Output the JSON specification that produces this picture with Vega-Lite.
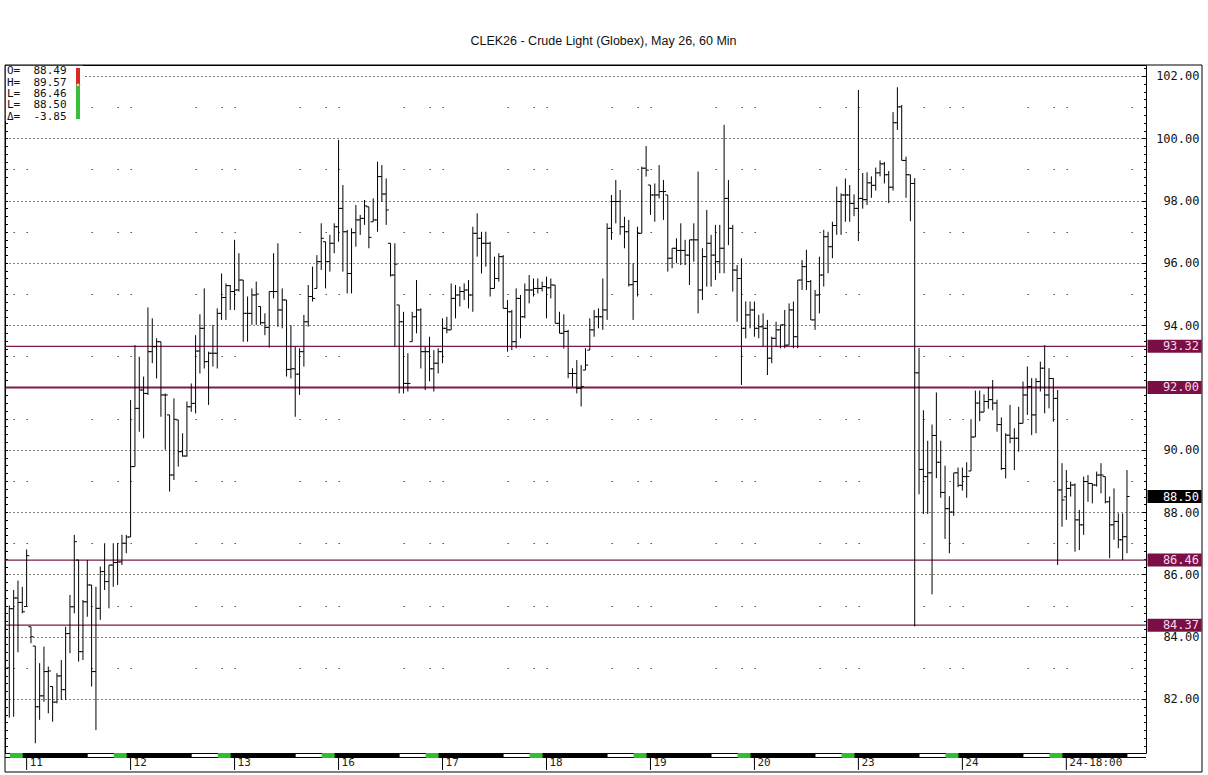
{
  "$schema": "https://vega.github.io/schema/vega-lite/v6.json",
  "width": 1141,
  "height": 688,
  "autosize": "none",
  "padding": {"left": 5, "top": 65, "right": 62, "bottom": 22},
  "background": "#ffffff",
  "title": {"text": "CLEK26 - Crude Light (Globex), May 26, 60 Min", "font": "Liberation Sans", "fontSize": 12.5, "fontWeight": "normal", "color": "#111111", "anchor": "middle", "dx": 28, "offset": 7, "baseline": "alphabetic"},
  "config": {"view": {"stroke": "#000000", "strokeWidth": 1}},
  "datasets": {
    "bars": [
      {"i":0,"o":83.0,"h":85.0,"l":81.4,"c":84.9},
      {"i":1,"o":84.9,"h":85.5,"l":81.43,"c":85.24},
      {"i":2,"o":85.24,"h":85.8,"l":83.5,"c":85.1},
      {"i":3,"o":85.1,"h":85.6,"l":84.75,"c":84.8},
      {"i":4,"o":84.97,"h":86.8,"l":84.97,"c":86.6},
      {"i":5,"o":84.32,"h":84.32,"l":83.79,"c":84.0},
      {"i":6,"o":83.7,"h":83.7,"l":80.58,"c":81.75},
      {"i":7,"o":81.75,"h":83.15,"l":81.33,"c":82.1},
      {"i":8,"o":82.1,"h":83.68,"l":81.91,"c":82.88},
      {"i":9,"o":82.88,"h":83.04,"l":81.54,"c":82.9},
      {"i":10,"o":82.4,"h":82.4,"l":81.27,"c":81.9},
      {"i":11,"o":81.9,"h":82.83,"l":81.86,"c":82.74},
      {"i":12,"o":82.74,"h":83.25,"l":81.97,"c":82.3},
      {"i":13,"o":82.3,"h":84.32,"l":81.97,"c":84.1},
      {"i":14,"o":84.1,"h":85.34,"l":83.47,"c":84.96},
      {"i":15,"o":84.96,"h":87.27,"l":84.75,"c":87.05},
      {"i":16,"o":86.46,"h":86.46,"l":83.2,"c":83.52},
      {"i":17,"o":83.52,"h":85.18,"l":83.25,"c":85.12},
      {"i":18,"o":85.12,"h":86.46,"l":84.64,"c":85.66},
      {"i":19,"o":85.66,"h":85.66,"l":82.4,"c":82.88},
      {"i":20,"o":82.88,"h":85.6,"l":81.0,"c":84.91},
      {"i":21,"o":84.91,"h":86.25,"l":84.54,"c":86.09},
      {"i":22,"o":86.09,"h":87.0,"l":85.5,"c":85.77},
      {"i":23,"o":85.77,"h":86.3,"l":84.91,"c":86.3},
      {"i":24,"o":86.3,"h":87.0,"l":85.6,"c":86.38},
      {"i":25,"o":86.38,"h":87.0,"l":85.66,"c":86.4},
      {"i":26,"o":86.4,"h":87.27,"l":86.3,"c":87.0},
      {"i":27,"o":87.0,"h":87.27,"l":86.68,"c":87.2},
      {"i":28,"o":87.2,"h":91.6,"l":87.2,"c":89.46},
      {"i":29,"o":89.46,"h":93.36,"l":89.46,"c":91.33},
      {"i":30,"o":91.33,"h":92.99,"l":90.58,"c":91.92},
      {"i":31,"o":91.92,"h":92.35,"l":90.37,"c":91.81},
      {"i":32,"o":91.81,"h":94.57,"l":91.76,"c":93.15},
      {"i":33,"o":93.15,"h":94.22,"l":92.78,"c":93.31},
      {"i":34,"o":93.31,"h":93.58,"l":92.29,"c":93.47},
      {"i":35,"o":93.47,"h":93.47,"l":91.06,"c":91.76},
      {"i":36,"o":91.76,"h":91.81,"l":90.0,"c":91.76},
      {"i":37,"o":91.12,"h":91.12,"l":88.66,"c":89.19},
      {"i":38,"o":89.19,"h":91.65,"l":89.03,"c":90.98},
      {"i":39,"o":90.96,"h":90.96,"l":89.46,"c":89.94},
      {"i":40,"o":89.94,"h":90.53,"l":89.78,"c":89.8},
      {"i":41,"o":89.8,"h":91.55,"l":89.78,"c":91.38},
      {"i":42,"o":91.38,"h":92.13,"l":91.22,"c":91.49},
      {"i":43,"o":91.49,"h":93.68,"l":91.17,"c":93.17},
      {"i":44,"o":93.17,"h":94.35,"l":92.45,"c":93.9},
      {"i":45,"o":93.9,"h":95.18,"l":92.61,"c":92.83},
      {"i":46,"o":92.83,"h":93.15,"l":91.44,"c":93.1},
      {"i":47,"o":93.1,"h":94.01,"l":92.67,"c":93.1},
      {"i":48,"o":93.1,"h":94.54,"l":92.61,"c":94.38},
      {"i":49,"o":94.38,"h":95.66,"l":94.17,"c":94.89},
      {"i":50,"o":94.89,"h":95.34,"l":94.17,"c":95.27},
      {"i":51,"o":95.27,"h":95.29,"l":94.49,"c":95.08},
      {"i":52,"o":95.08,"h":96.74,"l":94.49,"c":95.13},
      {"i":53,"o":95.13,"h":96.31,"l":95.08,"c":95.45},
      {"i":54,"o":95.45,"h":95.45,"l":93.47,"c":94.38},
      {"i":55,"o":94.38,"h":94.92,"l":93.47,"c":94.38},
      {"i":56,"o":94.38,"h":95.18,"l":94.01,"c":94.97},
      {"i":57,"o":94.97,"h":95.4,"l":94.01,"c":95.0},
      {"i":58,"o":94.6,"h":94.6,"l":94.01,"c":94.08},
      {"i":59,"o":94.08,"h":94.38,"l":93.68,"c":93.93},
      {"i":60,"o":93.93,"h":95.08,"l":93.28,"c":95.08},
      {"i":61,"o":95.08,"h":96.31,"l":94.86,"c":95.08},
      {"i":62,"o":95.08,"h":96.63,"l":93.95,"c":94.49},
      {"i":63,"o":94.49,"h":95.18,"l":93.9,"c":94.81},
      {"i":64,"o":94.81,"h":94.81,"l":92.35,"c":92.58},
      {"i":65,"o":92.58,"h":94.0,"l":92.29,"c":92.6},
      {"i":66,"o":92.6,"h":93.31,"l":91.06,"c":92.43},
      {"i":67,"o":92.43,"h":93.26,"l":91.76,"c":93.15},
      {"i":68,"o":93.15,"h":94.33,"l":92.67,"c":94.11},
      {"i":69,"o":94.11,"h":95.29,"l":93.95,"c":94.92},
      {"i":70,"o":94.92,"h":95.88,"l":94.76,"c":94.86},
      {"i":71,"o":95.18,"h":96.25,"l":95.18,"c":96.04},
      {"i":72,"o":96.04,"h":97.27,"l":95.77,"c":96.79},
      {"i":73,"o":96.68,"h":96.68,"l":95.18,"c":96.04},
      {"i":74,"o":96.04,"h":96.9,"l":95.72,"c":96.63},
      {"i":75,"o":96.63,"h":97.27,"l":96.31,"c":97.16},
      {"i":76,"o":97.16,"h":99.95,"l":96.68,"c":97.75},
      {"i":77,"o":97.75,"h":98.5,"l":95.72,"c":97.0},
      {"i":78,"o":97.0,"h":97.06,"l":95.02,"c":95.66},
      {"i":79,"o":95.66,"h":97.11,"l":95.02,"c":96.97},
      {"i":80,"o":96.97,"h":97.86,"l":96.52,"c":97.38},
      {"i":81,"o":97.38,"h":97.54,"l":96.9,"c":97.43},
      {"i":82,"o":97.43,"h":98.02,"l":97.22,"c":97.83},
      {"i":83,"o":97.8,"h":97.8,"l":96.47,"c":96.82},
      {"i":84,"o":97.32,"h":98.07,"l":97.32,"c":97.38},
      {"i":85,"o":97.38,"h":99.25,"l":97.0,"c":98.77},
      {"i":86,"o":98.77,"h":99.14,"l":97.96,"c":98.21},
      {"i":87,"o":98.21,"h":98.71,"l":97.22,"c":97.7},
      {"i":88,"o":96.63,"h":96.63,"l":95.56,"c":95.61},
      {"i":89,"o":95.61,"h":96.63,"l":93.31,"c":95.96},
      {"i":90,"o":94.65,"h":94.65,"l":91.81,"c":94.11},
      {"i":91,"o":94.11,"h":94.43,"l":91.81,"c":92.13},
      {"i":92,"o":92.13,"h":93.1,"l":91.87,"c":92.13},
      {"i":93,"o":93.47,"h":94.43,"l":93.47,"c":94.27},
      {"i":94,"o":94.27,"h":95.45,"l":93.74,"c":94.49},
      {"i":95,"o":94.49,"h":94.54,"l":92.61,"c":93.15},
      {"i":96,"o":93.15,"h":93.31,"l":91.92,"c":93.15},
      {"i":97,"o":93.15,"h":93.63,"l":92.2,"c":92.6},
      {"i":98,"o":92.6,"h":93.2,"l":91.87,"c":92.78},
      {"i":99,"o":92.78,"h":93.26,"l":92.45,"c":93.15},
      {"i":100,"o":93.15,"h":94.22,"l":92.78,"c":93.9},
      {"i":101,"o":93.9,"h":94.27,"l":93.74,"c":93.85},
      {"i":102,"o":93.85,"h":95.34,"l":93.85,"c":94.86},
      {"i":103,"o":94.86,"h":95.29,"l":94.22,"c":94.97},
      {"i":104,"o":94.97,"h":95.24,"l":94.6,"c":95.08},
      {"i":105,"o":95.08,"h":95.34,"l":94.81,"c":95.13},
      {"i":106,"o":95.13,"h":95.45,"l":94.54,"c":94.97},
      {"i":107,"o":94.97,"h":97.16,"l":94.43,"c":96.95},
      {"i":108,"o":96.95,"h":97.59,"l":96.2,"c":96.79},
      {"i":109,"o":96.79,"h":97.0,"l":95.66,"c":96.63},
      {"i":110,"o":96.63,"h":97.0,"l":95.88,"c":96.63},
      {"i":111,"o":96.63,"h":96.68,"l":94.92,"c":95.18},
      {"i":112,"o":95.18,"h":96.2,"l":95.18,"c":95.5},
      {"i":113,"o":95.5,"h":96.31,"l":95.4,"c":96.2},
      {"i":114,"o":96.2,"h":96.25,"l":94.54,"c":94.54},
      {"i":115,"o":94.54,"h":94.81,"l":93.15,"c":94.43},
      {"i":116,"o":94.43,"h":94.49,"l":93.2,"c":93.47},
      {"i":117,"o":93.47,"h":95.18,"l":93.26,"c":94.86},
      {"i":118,"o":94.86,"h":94.97,"l":93.58,"c":94.27},
      {"i":119,"o":94.27,"h":95.34,"l":94.22,"c":95.13},
      {"i":120,"o":95.13,"h":95.61,"l":94.7,"c":95.13},
      {"i":121,"o":95.13,"h":95.5,"l":94.92,"c":95.18},
      {"i":122,"o":95.18,"h":95.5,"l":95.02,"c":95.18},
      {"i":123,"o":95.18,"h":95.4,"l":95.08,"c":95.24},
      {"i":124,"o":95.24,"h":95.56,"l":94.22,"c":95.2},
      {"i":125,"o":95.2,"h":95.5,"l":94.86,"c":95.29},
      {"i":126,"o":95.29,"h":95.29,"l":94.06,"c":94.06},
      {"i":127,"o":94.06,"h":94.43,"l":93.74,"c":93.74},
      {"i":128,"o":93.74,"h":94.35,"l":93.25,"c":93.8},
      {"i":129,"o":93.8,"h":93.85,"l":92.3,"c":92.45},
      {"i":130,"o":92.45,"h":92.62,"l":92.03,"c":92.45},
      {"i":131,"o":92.45,"h":92.88,"l":91.81,"c":91.97},
      {"i":132,"o":91.97,"h":92.72,"l":91.39,"c":92.03},
      {"i":133,"o":92.56,"h":93.26,"l":92.56,"c":92.72},
      {"i":134,"o":93.2,"h":94.22,"l":93.2,"c":93.85},
      {"i":135,"o":93.85,"h":94.49,"l":93.63,"c":94.27},
      {"i":136,"o":94.27,"h":94.54,"l":93.9,"c":94.27},
      {"i":137,"o":94.27,"h":95.5,"l":93.85,"c":94.49},
      {"i":138,"o":94.49,"h":97.27,"l":94.17,"c":97.11},
      {"i":139,"o":97.11,"h":98.18,"l":96.74,"c":97.97},
      {"i":140,"o":97.97,"h":98.66,"l":97.27,"c":97.97},
      {"i":141,"o":97.97,"h":98.34,"l":96.9,"c":97.16},
      {"i":142,"o":97.16,"h":97.48,"l":96.47,"c":97.0},
      {"i":143,"o":97.0,"h":97.38,"l":95.24,"c":95.3},
      {"i":144,"o":95.3,"h":95.99,"l":94.17,"c":95.4},
      {"i":145,"o":95.4,"h":97.16,"l":94.92,"c":96.95},
      {"i":146,"o":96.95,"h":99.09,"l":96.95,"c":99.04},
      {"i":147,"o":99.04,"h":99.75,"l":98.77,"c":98.98},
      {"i":148,"o":98.5,"h":98.5,"l":97.54,"c":98.18},
      {"i":149,"o":98.18,"h":98.55,"l":97.32,"c":98.18},
      {"i":150,"o":98.18,"h":99.14,"l":98.07,"c":98.29},
      {"i":151,"o":98.29,"h":98.66,"l":97.38,"c":98.29},
      {"i":152,"o":98.18,"h":98.18,"l":95.72,"c":96.15},
      {"i":153,"o":96.15,"h":96.47,"l":95.83,"c":96.47},
      {"i":154,"o":96.47,"h":96.79,"l":95.99,"c":96.4},
      {"i":155,"o":96.4,"h":97.27,"l":95.93,"c":96.4},
      {"i":156,"o":96.4,"h":96.74,"l":95.93,"c":96.25},
      {"i":157,"o":96.25,"h":96.74,"l":95.29,"c":96.74},
      {"i":158,"o":96.74,"h":97.27,"l":96.04,"c":96.74},
      {"i":159,"o":96.74,"h":98.93,"l":94.38,"c":95.13},
      {"i":160,"o":95.13,"h":96.47,"l":94.81,"c":96.2},
      {"i":161,"o":96.2,"h":97.7,"l":95.24,"c":96.63},
      {"i":162,"o":96.63,"h":96.9,"l":95.24,"c":96.25},
      {"i":163,"o":96.25,"h":97.22,"l":95.45,"c":96.04},
      {"i":164,"o":96.04,"h":97.22,"l":95.67,"c":96.47},
      {"i":165,"o":96.47,"h":100.43,"l":95.67,"c":98.07},
      {"i":166,"o":98.07,"h":98.66,"l":96.57,"c":97.11},
      {"i":167,"o":97.11,"h":97.22,"l":95.08,"c":95.77},
      {"i":168,"o":95.77,"h":95.93,"l":94.11,"c":95.5},
      {"i":169,"o":95.5,"h":96.15,"l":92.08,"c":93.9},
      {"i":170,"o":93.9,"h":94.76,"l":93.58,"c":94.33},
      {"i":171,"o":94.33,"h":94.76,"l":93.9,"c":94.49},
      {"i":172,"o":94.49,"h":94.76,"l":93.63,"c":93.9},
      {"i":173,"o":93.9,"h":94.33,"l":93.58,"c":93.95},
      {"i":174,"o":93.95,"h":94.38,"l":93.31,"c":93.9},
      {"i":175,"o":93.9,"h":94.17,"l":92.4,"c":92.94},
      {"i":176,"o":92.94,"h":93.63,"l":92.78,"c":93.58},
      {"i":177,"o":93.58,"h":94.11,"l":93.31,"c":93.85},
      {"i":178,"o":93.85,"h":94.01,"l":93.26,"c":94.01},
      {"i":179,"o":94.01,"h":94.49,"l":93.26,"c":93.36},
      {"i":180,"o":93.36,"h":94.7,"l":93.36,"c":94.49},
      {"i":181,"o":94.49,"h":94.76,"l":93.26,"c":93.63},
      {"i":182,"o":93.63,"h":95.45,"l":93.26,"c":95.45},
      {"i":183,"o":95.45,"h":96.09,"l":95.13,"c":95.88},
      {"i":184,"o":95.88,"h":96.42,"l":95.13,"c":95.4},
      {"i":185,"o":95.4,"h":95.45,"l":94.17,"c":94.17},
      {"i":186,"o":94.17,"h":95.13,"l":93.85,"c":94.97},
      {"i":187,"o":94.97,"h":96.2,"l":94.38,"c":95.61},
      {"i":188,"o":95.61,"h":97.06,"l":95.24,"c":96.84},
      {"i":189,"o":96.84,"h":97.0,"l":95.67,"c":96.52},
      {"i":190,"o":96.52,"h":97.32,"l":96.15,"c":97.2},
      {"i":191,"o":97.2,"h":98.45,"l":96.9,"c":97.97},
      {"i":192,"o":97.97,"h":98.23,"l":96.9,"c":98.18},
      {"i":193,"o":98.18,"h":98.71,"l":97.32,"c":98.18},
      {"i":194,"o":98.18,"h":98.5,"l":97.32,"c":97.91},
      {"i":195,"o":97.91,"h":98.2,"l":97.5,"c":97.75},
      {"i":196,"o":97.75,"h":101.55,"l":96.7,"c":98.07},
      {"i":197,"o":98.07,"h":98.89,"l":97.74,"c":98.03},
      {"i":198,"o":98.03,"h":98.91,"l":97.86,"c":98.57},
      {"i":199,"o":98.57,"h":98.78,"l":98.09,"c":98.49},
      {"i":200,"o":98.49,"h":99.06,"l":98.32,"c":98.89},
      {"i":201,"o":98.89,"h":99.29,"l":98.78,"c":99.18},
      {"i":202,"o":99.18,"h":99.24,"l":98.55,"c":98.83},
      {"i":203,"o":98.83,"h":98.95,"l":97.92,"c":98.43},
      {"i":204,"o":98.43,"h":100.84,"l":98.32,"c":100.5},
      {"i":205,"o":100.5,"h":101.64,"l":100.27,"c":101.01},
      {"i":206,"o":101.01,"h":101.07,"l":99.29,"c":99.29},
      {"i":207,"o":99.29,"h":99.41,"l":98.09,"c":98.83},
      {"i":208,"o":98.83,"h":98.83,"l":97.34,"c":98.55},
      {"i":209,"o":98.55,"h":98.72,"l":84.33,"c":92.47},
      {"i":210,"o":92.47,"h":93.27,"l":88.57,"c":89.37},
      {"i":211,"o":89.37,"h":91.27,"l":87.94,"c":89.14},
      {"i":212,"o":89.14,"h":90.29,"l":87.94,"c":89.26},
      {"i":213,"o":89.26,"h":90.81,"l":85.36,"c":90.46},
      {"i":214,"o":90.46,"h":91.84,"l":89.09,"c":89.6},
      {"i":215,"o":89.6,"h":90.29,"l":88.46,"c":88.63},
      {"i":216,"o":88.63,"h":89.49,"l":87.14,"c":88.11},
      {"i":217,"o":88.11,"h":88.51,"l":86.68,"c":88.0},
      {"i":218,"o":88.0,"h":89.26,"l":87.88,"c":89.26},
      {"i":219,"o":89.26,"h":89.43,"l":88.8,"c":88.86},
      {"i":220,"o":88.86,"h":89.43,"l":88.69,"c":89.14},
      {"i":221,"o":89.14,"h":89.6,"l":88.46,"c":89.14},
      {"i":222,"o":89.32,"h":90.98,"l":89.32,"c":90.41},
      {"i":223,"o":90.41,"h":91.9,"l":90.41,"c":91.5},
      {"i":224,"o":91.5,"h":91.9,"l":90.92,"c":91.21},
      {"i":225,"o":91.21,"h":91.78,"l":91.21,"c":91.55},
      {"i":226,"o":91.55,"h":92.01,"l":91.32,"c":91.61},
      {"i":227,"o":91.61,"h":92.24,"l":91.27,"c":91.5},
      {"i":228,"o":91.5,"h":91.61,"l":90.58,"c":90.81},
      {"i":229,"o":90.81,"h":91.04,"l":89.35,"c":89.4},
      {"i":230,"o":89.4,"h":90.53,"l":89.08,"c":90.47},
      {"i":231,"o":90.47,"h":91.44,"l":90.21,"c":90.37},
      {"i":232,"o":90.37,"h":90.69,"l":89.35,"c":90.37},
      {"i":233,"o":90.37,"h":91.38,"l":89.94,"c":90.85},
      {"i":234,"o":90.85,"h":92.19,"l":90.85,"c":91.76},
      {"i":235,"o":91.76,"h":92.67,"l":91.12,"c":92.03},
      {"i":236,"o":92.03,"h":92.3,"l":90.47,"c":91.12},
      {"i":237,"o":91.12,"h":92.3,"l":90.53,"c":92.19},
      {"i":238,"o":92.19,"h":92.83,"l":91.87,"c":92.62},
      {"i":239,"o":92.62,"h":93.36,"l":91.17,"c":91.76},
      {"i":240,"o":91.76,"h":92.62,"l":91.33,"c":92.29},
      {"i":241,"o":92.29,"h":92.3,"l":90.9,"c":91.65},
      {"i":242,"o":91.65,"h":91.92,"l":86.3,"c":88.71},
      {"i":243,"o":88.71,"h":89.57,"l":87.53,"c":88.39},
      {"i":244,"o":88.49,"h":89.35,"l":87.75,"c":88.76},
      {"i":245,"o":88.76,"h":88.98,"l":88.5,"c":88.87},
      {"i":246,"o":88.87,"h":88.92,"l":86.73,"c":87.75},
      {"i":247,"o":87.75,"h":88.07,"l":86.78,"c":87.59},
      {"i":248,"o":87.59,"h":89.14,"l":87.27,"c":88.98},
      {"i":249,"o":88.98,"h":89.19,"l":88.33,"c":88.92},
      {"i":250,"o":88.92,"h":88.92,"l":88.28,"c":88.87},
      {"i":251,"o":88.87,"h":89.3,"l":88.82,"c":89.19},
      {"i":252,"o":89.19,"h":89.57,"l":88.6,"c":89.19},
      {"i":253,"o":89.14,"h":89.14,"l":88.28,"c":88.33},
      {"i":254,"o":88.33,"h":88.5,"l":86.52,"c":87.59},
      {"i":255,"o":87.59,"h":88.76,"l":87.11,"c":87.7},
      {"i":256,"o":87.7,"h":87.96,"l":86.84,"c":87.11},
      {"i":257,"o":87.11,"h":87.96,"l":86.46,"c":87.21},
      {"i":258,"o":87.21,"h":89.35,"l":86.68,"c":88.5}
    ],
    "levels": [
      {"price": 93.32, "type": "support"},
      {"price": 92.0, "type": "support"},
      {"price": 86.46, "type": "support"},
      {"price": 84.37, "type": "support"},
      {"price": 88.5, "type": "last"}
    ],
    "strip": [
      {"s0": -0.995, "s1": 262.39, "kind": "base"},
      {"s0": -0.995, "s1": 0.15, "kind": "day"},
      {"s0": 0.15, "s1": 3.1, "kind": "pit"},
      {"s0": 18.1, "s1": 24.15, "kind": "day"},
      {"s0": 24.15, "s1": 27.1, "kind": "pit"},
      {"s0": 42.1, "s1": 48.15, "kind": "day"},
      {"s0": 48.15, "s1": 51.1, "kind": "pit"},
      {"s0": 66.1, "s1": 72.15, "kind": "day"},
      {"s0": 72.15, "s1": 75.1, "kind": "pit"},
      {"s0": 90.1, "s1": 96.15, "kind": "day"},
      {"s0": 96.15, "s1": 99.1, "kind": "pit"},
      {"s0": 114.1, "s1": 120.15, "kind": "day"},
      {"s0": 120.15, "s1": 123.1, "kind": "pit"},
      {"s0": 138.1, "s1": 144.15, "kind": "day"},
      {"s0": 144.15, "s1": 147.1, "kind": "pit"},
      {"s0": 162.1, "s1": 168.15, "kind": "day"},
      {"s0": 168.15, "s1": 171.1, "kind": "pit"},
      {"s0": 186.1, "s1": 192.15, "kind": "day"},
      {"s0": 192.15, "s1": 195.1, "kind": "pit"},
      {"s0": 210.1, "s1": 216.15, "kind": "day"},
      {"s0": 216.15, "s1": 219.1, "kind": "pit"},
      {"s0": 234.1, "s1": 240.15, "kind": "day"},
      {"s0": 240.15, "s1": 243.1, "kind": "pit"},
      {"s0": 258.1, "s1": 262.39, "kind": "day"}
    ],
    "days": [
      {"slot": 4, "label": "11"},
      {"slot": 28, "label": "12"},
      {"slot": 52, "label": "13"},
      {"slot": 76, "label": "16"},
      {"slot": 100, "label": "17"},
      {"slot": 124, "label": "18"},
      {"slot": 148, "label": "19"},
      {"slot": 172, "label": "20"},
      {"slot": 196, "label": "23"},
      {"slot": 220, "label": "24"},
      {"slot": 244, "label": "24-18:00"}
    ]
  },
  "layer": [
    {
      "data": {"name": "levels"},
      "transform": [{"filter": "datum.type == 'support'"}],
      "mark": {"type": "rule", "color": "#7d1b4c"},
      "encoding": {
        "y": {"field": "price", "type": "quantitative", "scale": {"domain": [80.266, 102.353], "nice": false, "zero": false},
              "axis": {"orient": "left", "values": [80.5,80.75,81,81.25,81.5,81.75,82,82.25,82.5,82.75,83,83.25,83.5,83.75,84,84.25,84.5,84.75,85,85.25,85.5,85.75,86,86.25,86.5,86.75,87,87.25,87.5,87.75,88,88.25,88.5,88.75,89,89.25,89.5,89.75,90,90.25,90.5,90.75,91,91.25,91.5,91.75,92,92.25,92.5,92.75,93,93.25,93.5,93.75,94,94.25,94.5,94.75,95,95.25,95.5,95.75,96,96.25,96.5,96.75,97,97.25,97.5,97.75,98,98.25,98.5,98.75,99,99.25,99.5,99.75,100,100.25,100.5,100.75,101,101.25,101.5,101.75,102,102.25], "domain": false, "grid": false, "labels": false, "ticks": true, "tickSize": -2.5, "tickColor": "#000000", "tickWidth": 1, "title": null}},
        "strokeWidth": {"condition": {"test": "datum.price == 92", "value": 2}, "value": 1.3}
      }
    },
    {
      "data": {"name": "bars"},
      "mark": {"type": "rule", "color": "#000000", "strokeWidth": 1},
      "encoding": {
        "x": {"field": "i", "type": "quantitative", "scale": {"domain": [-0.995, 262.39], "nice": false, "zero": false},
              "axis": {"orient": "bottom", "values": [76, 196], "grid": true, "gridDash": [1, 4], "gridColor": "#000000", "gridWidth": 1, "gridOpacity": 1, "domain": false, "ticks": false, "labels": false, "title": null}},
        "y": {"field": "l", "type": "quantitative", "scale": {"domain": [80.266, 102.353], "nice": false, "zero": false},
              "axis": {"orient": "right", "values": [82,84,86,88,90,92,94,96,98,100,102], "format": ".2f", "grid": true, "gridDash": [1, 3], "gridColor": "#000000", "gridWidth": 1, "gridOpacity": 1, "domain": false, "ticks": true, "tickSize": -4, "tickColor": "#000000", "labelAlign": "right", "labelBaseline": "middle", "labelPadding": 57, "labelFont": "DejaVu Sans Mono", "labelFontSize": 12, "labelColor": "#111111", "labelOverlap": false, "labelBound": false, "labelFlush": false, "title": null}},
        "y2": {"field": "h"}
      }
    },
    {
      "data": {"name": "bars"},
      "mark": {"type": "tick", "orient": "horizontal", "size": 2.6, "thickness": 1, "xOffset": -1.3, "color": "#000000", "opacity": 1},
      "encoding": {
        "x": {"field": "i", "type": "quantitative", "scale": {"domain": [-0.995, 262.39], "nice": false, "zero": false}, "axis": null},
        "y": {"field": "o", "type": "quantitative", "scale": {"domain": [80.266, 102.353], "nice": false, "zero": false},
              "axis": {"orient": "left", "values": [83,85,87,89,91,93,95,97,99,101], "grid": true, "gridDash": [1, 12, 1, 64, 1, 25], "gridDashOffset": 95.86, "gridColor": "#000000", "gridWidth": 1, "gridOpacity": 1, "domain": false, "ticks": false, "labels": false, "title": null}}
      }
    },
    {
      "data": {"name": "bars"},
      "mark": {"type": "tick", "orient": "horizontal", "size": 2.6, "thickness": 1, "xOffset": 1.3, "color": "#000000", "opacity": 1},
      "encoding": {
        "x": {"field": "i", "type": "quantitative", "scale": {"domain": [-0.995, 262.39], "nice": false, "zero": false}, "axis": null},
        "y": {"field": "c", "type": "quantitative", "scale": {"domain": [80.266, 102.353], "nice": false, "zero": false},
              "axis": {"orient": "right", "values": [80.5,80.75,81,81.25,81.5,81.75,82,82.25,82.5,82.75,83,83.25,83.5,83.75,84,84.25,84.5,84.75,85,85.25,85.5,85.75,86,86.25,86.5,86.75,87,87.25,87.5,87.75,88,88.25,88.5,88.75,89,89.25,89.5,89.75,90,90.25,90.5,90.75,91,91.25,91.5,91.75,92,92.25,92.5,92.75,93,93.25,93.5,93.75,94,94.25,94.5,94.75,95,95.25,95.5,95.75,96,96.25,96.5,96.75,97,97.25,97.5,97.75,98,98.25,98.5,98.75,99,99.25,99.5,99.75,100,100.25,100.5,100.75,101,101.25,101.5,101.75,102,102.25], "domain": false, "grid": false, "labels": false, "ticks": true, "tickSize": -2.5, "tickColor": "#000000", "tickWidth": 1, "title": null}}
      }
    },
    {
      "data": {"name": "strip"},
      "transform": [{"filter": "datum.kind != 'day'"}],
      "mark": {"type": "rect"},
      "encoding": {
        "x": {"field": "s0", "type": "quantitative", "scale": {"domain": [-0.995, 262.39], "nice": false, "zero": false}, "axis": null},
        "x2": {"field": "s1"},
        "y": {"datum": 80.266, "type": "quantitative", "scale": {"domain": [80.266, 102.353], "nice": false, "zero": false}, "axis": null},
        "y2": {"datum": 80.106},
        "color": {"condition": {"test": "datum.kind == 'pit'", "value": "#2fc02f"}, "value": "#000000"}
      }
    },
    {
      "data": {"name": "strip"},
      "transform": [{"filter": "datum.kind == 'day'"}],
      "mark": {"type": "rect", "color": "#ffffff"},
      "encoding": {
        "x": {"field": "s0", "type": "quantitative", "scale": {"domain": [-0.995, 262.39], "nice": false, "zero": false}, "axis": null},
        "x2": {"field": "s1"},
        "y": {"datum": 80.234, "type": "quantitative", "scale": {"domain": [80.266, 102.353], "nice": false, "zero": false}, "axis": null},
        "y2": {"datum": 80.138}
      }
    },
    {
      "data": {"name": "days"},
      "mark": {"type": "rule", "color": "#000000", "strokeWidth": 1},
      "encoding": {
        "x": {"field": "slot", "type": "quantitative", "scale": {"domain": [-0.995, 262.39], "nice": false, "zero": false}, "axis": null},
        "y": {"datum": 80.106, "type": "quantitative", "scale": {"domain": [80.266, 102.353], "nice": false, "zero": false}, "axis": null},
        "y2": {"datum": 79.721}
      }
    },
    {
      "data": {"name": "days"},
      "mark": {"type": "text", "align": "left", "baseline": "middle", "dx": 3, "font": "DejaVu Sans Mono", "fontSize": 11, "color": "#222222"},
      "encoding": {
        "x": {"field": "slot", "type": "quantitative", "scale": {"domain": [-0.995, 262.39], "nice": false, "zero": false}, "axis": null},
        "y": {"datum": 79.93, "type": "quantitative", "scale": {"domain": [80.266, 102.353], "nice": false, "zero": false}, "axis": null},
        "text": {"field": "label"}
      }
    },
    {
      "data": {"name": "levels"},
      "mark": {"type": "tick", "orient": "horizontal", "size": 54, "thickness": 13, "opacity": 1},
      "encoding": {
        "x": {"datum": 268.97, "type": "quantitative", "scale": {"domain": [-0.995, 262.39], "nice": false, "zero": false}, "axis": null},
        "y": {"field": "price", "type": "quantitative", "scale": {"domain": [80.266, 102.353], "nice": false, "zero": false}, "axis": null},
        "color": {"condition": {"test": "datum.type == 'last'", "value": "#000000"}, "value": "#7b0f45"}
      }
    },
    {
      "data": {"name": "levels"},
      "mark": {"type": "text", "align": "right", "baseline": "middle", "font": "DejaVu Sans Mono", "fontSize": 12},
      "encoding": {
        "x": {"datum": 274.63, "type": "quantitative", "scale": {"domain": [-0.995, 262.39], "nice": false, "zero": false}, "axis": null},
        "y": {"field": "price", "type": "quantitative", "scale": {"domain": [80.266, 102.353], "nice": false, "zero": false}, "axis": null},
        "text": {"field": "price", "format": ".2f"},
        "color": {"condition": {"test": "datum.type == 'last'", "value": "#ffffff"}, "value": "#f6d8e6"}
      }
    },
    {
      "data": {"values": [{}]},
      "mark": {"type": "rect", "color": "#ffffff"},
      "encoding": {
        "x": {"datum": -0.88, "type": "quantitative", "scale": {"domain": [-0.995, 262.39], "nice": false, "zero": false}, "axis": null},
        "x2": {"datum": 17.01},
        "y": {"datum": 102.337, "type": "quantitative", "scale": {"domain": [80.266, 102.353], "nice": false, "zero": false}, "axis": null},
        "y2": {"datum": 100.555}
      }
    },
    {
      "data": {"values": [{}]},
      "mark": {"type": "text", "align": "left", "baseline": "top", "lineBreak": "\n", "lineHeight": 11.3, "font": "DejaVu Sans Mono", "fontSize": 11, "color": "#111111", "text": "O=\u00a0\u00a088.49\nH=\u00a0\u00a089.57\nL=\u00a0\u00a086.46\nL=\u00a0\u00a088.50\nΔ=\u00a0\u00a0-3.85"},
      "encoding": {
        "x": {"datum": -0.533, "type": "quantitative", "scale": {"domain": [-0.995, 262.39], "nice": false, "zero": false}, "axis": null},
        "y": {"datum": 102.337, "type": "quantitative", "scale": {"domain": [80.266, 102.353], "nice": false, "zero": false}, "axis": null}
      }
    },
    {
      "data": {"values": [{}]},
      "mark": {"type": "rect", "color": "#d42a22"},
      "encoding": {
        "x": {"datum": 15.39, "type": "quantitative", "scale": {"domain": [-0.995, 262.39], "nice": false, "zero": false}, "axis": null},
        "x2": {"datum": 16.32},
        "y": {"datum": 102.257, "type": "quantitative", "scale": {"domain": [80.266, 102.353], "nice": false, "zero": false}, "axis": null},
        "y2": {"datum": 101.711}
      }
    },
    {
      "data": {"values": [{}]},
      "mark": {"type": "rect", "color": "#36c236"},
      "encoding": {
        "x": {"datum": 15.39, "type": "quantitative", "scale": {"domain": [-0.995, 262.39], "nice": false, "zero": false}, "axis": null},
        "x2": {"datum": 16.32},
        "y": {"datum": 101.711, "type": "quantitative", "scale": {"domain": [80.266, 102.353], "nice": false, "zero": false}, "axis": null},
        "y2": {"datum": 100.62}
      }
    },
    {
      "data": {"values": [{}]},
      "mark": {"type": "point", "filled": true, "size": 14, "color": "#f2e27a", "stroke": "#555555", "strokeWidth": 0.6, "opacity": 1},
      "encoding": {
        "x": {"datum": 15.86, "type": "quantitative", "scale": {"domain": [-0.995, 262.39], "nice": false, "zero": false}, "axis": null},
        "y": {"datum": 101.711, "type": "quantitative", "scale": {"domain": [80.266, 102.353], "nice": false, "zero": false}, "axis": null}
      }
    },
    {
      "data": {"values": [{}]},
      "mark": {"type": "rect", "fill": null, "fillOpacity": 0, "stroke": "#000000", "strokeWidth": 1},
      "encoding": {
        "x": {"datum": -0.995, "type": "quantitative", "scale": {"domain": [-0.995, 262.39], "nice": false, "zero": false}, "axis": null},
        "x2": {"datum": 275.32},
        "y": {"datum": 102.353, "type": "quantitative", "scale": {"domain": [80.266, 102.353], "nice": false, "zero": false}, "axis": null},
        "y2": {"datum": 79.656}
      }
    }
  ],
  "resolve": {"axis": {"y": "independent"}}
}
